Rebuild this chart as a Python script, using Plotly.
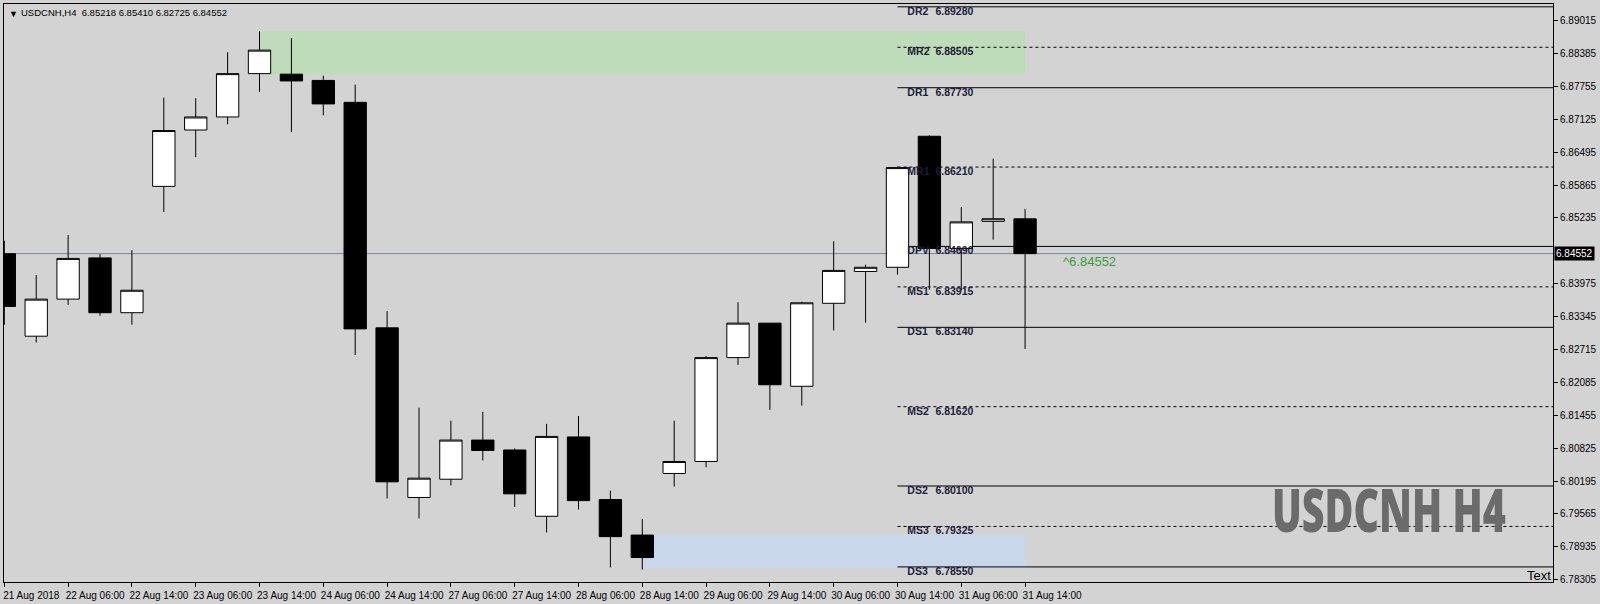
import plotly.graph_objects as go

# ---------------- data ----------------
bar_index = list(range(33))
tick_bars = [0, 2, 4, 6, 8, 10, 12, 14, 16, 18, 20, 22, 24, 26, 28, 30, 32]
tick_labels = ["21 Aug 2018", "22 Aug 06:00", "22 Aug 14:00", "23 Aug 06:00", "23 Aug 14:00",
               "24 Aug 06:00", "24 Aug 14:00", "27 Aug 06:00", "27 Aug 14:00", "28 Aug 06:00",
               "28 Aug 14:00", "29 Aug 06:00", "29 Aug 14:00", "30 Aug 06:00", "30 Aug 14:00",
               "31 Aug 06:00", "31 Aug 14:00"]

opens = [6.8455, 6.8297, 6.8368, 6.8447, 6.8342, 6.8584, 6.8692, 6.8717, 6.8800, 6.8799,
         6.8787, 6.8745, 6.8313, 6.7988, 6.8023, 6.8098, 6.8079, 6.7952, 6.8104, 6.7984,
         6.7916, 6.8034, 6.8057, 6.8256, 6.8322, 6.8201, 6.8360, 6.8421, 6.8429, 6.8680,
         6.8465, 6.8517, 6.85218]
highs = [6.8480, 6.8414, 6.8491, 6.8454, 6.8462, 6.8754, 6.8753, 6.8841, 6.8881, 6.8868,
         6.8796, 6.8779, 6.8345, 6.8160, 6.8135, 6.8152, 6.8082, 6.8129, 6.8144, 6.8001,
         6.7947, 6.8135, 6.8259, 6.8362, 6.8322, 6.8363, 6.8479, 6.8434, 6.8622, 6.8682,
         6.8544, 6.8637, 6.85410]
lows = [6.8319, 6.8285, 6.8357, 6.8336, 6.8319, 6.8535, 6.8640, 6.8703, 6.8765, 6.8688,
        6.8720, 6.8261, 6.7986, 6.7948, 6.8011, 6.8059, 6.7970, 6.7921, 6.7965, 6.7854,
        6.7850, 6.8009, 6.8046, 6.8242, 6.8156, 6.8164, 6.8308, 6.8323, 6.8415, 6.8386,
        6.8385, 6.8482, 6.82725]
closes = [6.8354, 6.8368, 6.8446, 6.8342, 6.8385, 6.8691, 6.8717, 6.8800, 6.8845, 6.8786,
          6.8742, 6.8311, 6.8018, 6.8025, 6.8098, 6.8078, 6.7995, 6.8105, 6.7982, 6.7913,
          6.7873, 6.8057, 6.8256, 6.8322, 6.8204, 6.8361, 6.8423, 6.8429, 6.8620, 6.8465,
          6.8516, 6.8522, 6.84552]

level_names = ["DR2", "MR2", "DR1", "MR1", "DPV", "MS1", "DS1", "MS2", "DS2", "MS3", "DS3"]
level_values = [6.89280, 6.88505, 6.87730, 6.86210, 6.84690, 6.83915, 6.83140, 6.81620,
                6.80100, 6.79325, 6.78550]
level_dashed = [False, True, False, True, False, True, False, True, False, True, False]
level_start = 28

zone_start = [8, 20]
zone_end = [32, 32]
zone_low = [6.8800, 6.7852]
zone_high = [6.8881, 6.7917]
zone_colors = ["#bedcb9", "#c8d8ea"]

y_ticks = [6.78305, 6.78935, 6.79565, 6.80195, 6.80825, 6.81455, 6.82085, 6.82715, 6.83345,
           6.83975, 6.84605, 6.85235, 6.85865, 6.86495, 6.87125, 6.87755, 6.88385, 6.89015]
# the tick hidden behind the current-price label is omitted
y_ticks_shown = [v for v in y_ticks if abs(v - 6.84605) > 1e-9]
y_tick_text_shown = ["%.5f" % v for v in y_ticks_shown]

x_range = [-0.01, 48.55]
y_range = [6.78261, 6.89334]

BG = "#d3d3d3"
FONT = "Liberation Sans, Arial, sans-serif"
BIG_FONT = "Noto Sans, DejaVu Sans, sans-serif"
BIG_TEXT = "USDCNH H4"
BIG_TEXT_WIDTH = 234  # px, condensed like the reference

fig = go.Figure()

# pivot level labels (drawn beneath candles)
fig.add_trace(go.Scatter(
    x=[level_start + 0.31] * len(level_names), y=level_values, mode="text",
    text=level_names, textposition="bottom right",
    textfont=dict(family=FONT, size=10.5, color="#1c1c3a", weight="bold"),
    hoverinfo="skip", showlegend=False))
fig.add_trace(go.Scatter(
    x=[level_start + 1.19] * len(level_values), y=level_values, mode="text",
    text=["%.5f" % v for v in level_values], textposition="bottom right",
    textfont=dict(family=FONT, size=10.5, color="#1c1c3a", weight="bold"),
    hoverinfo="skip", showlegend=False))

fig.add_trace(go.Candlestick(
    x=bar_index, open=opens, high=highs, low=lows, close=closes,
    increasing=dict(fillcolor="white", line=dict(color="black", width=1)),
    decreasing=dict(fillcolor="black", line=dict(color="black", width=1)),
    whiskerwidth=0, showlegend=False, hoverinfo="skip"))

shapes = []
for s, e, lo, hi, c in zip(zone_start, zone_end, zone_low, zone_high, zone_colors):
    shapes.append(dict(type="rect", xref="x", yref="y", x0=s, x1=e, y0=lo, y1=hi,
                       fillcolor=c, line=dict(width=0), layer="below"))
for v, d in zip(level_values, level_dashed):
    shapes.append(dict(type="line", xref="x", yref="y", x0=level_start, x1=x_range[1],
                       y0=v, y1=v, layer="below",
                       line=dict(color="black", width=1, dash="3px,3px" if d else "solid")))
shapes.append(dict(type="line", xref="paper", yref="y", x0=0, x1=1, y0=closes[-1], y1=closes[-1],
                   layer="below", line=dict(color="#778899", width=1)))

annotations = [
    dict(xref="paper", yref="paper", x=0, y=1, xshift=3, yshift=-3, xanchor="left", yanchor="top",
         text="▼", showarrow=False, font=dict(family=FONT, size=9, color="black")),
    dict(xref="paper", yref="paper", x=0, y=1, xshift=15, yshift=-1, xanchor="left", yanchor="top",
         text="USDCNH,H4  %.5f %.5f %.5f %.5f" % (opens[-1], highs[-1], lows[-1], closes[-1]),
         showarrow=False, font=dict(family=FONT, size=9.5, color="black")),
    dict(xref="paper", yref="y", x=1, y=closes[-1], xanchor="left", yanchor="middle", xshift=1,
         text="%.5f" % closes[-1], showarrow=False, bgcolor="black", borderpad=1,
         font=dict(family=FONT, size=10, color="white")),
    dict(xref="x", yref="y", x=bar_index[-1], y=closes[-1], xanchor="left", yanchor="middle",
         xshift=36, yshift=-8, text="^%.5f" % closes[-1], showarrow=False,
         font=dict(family=FONT, size=13, color="#3c9a3c")),
    dict(xref="paper", yref="paper", x=0.8942, y=0.1258, xanchor="center", yanchor="middle",
         text=BIG_TEXT, showarrow=False,
         font=dict(family=BIG_FONT, size=60, color="#6b6b6b", weight=900)),
    dict(xref="paper", yref="paper", x=1, y=0.012, xanchor="right", yanchor="middle",
         text="Text", showarrow=False, font=dict(family=FONT, size=13, color="black")),
]

fig.update_layout(
    width=1600, height=604,
    margin=dict(l=3, r=43, t=3, b=21, pad=0),
    paper_bgcolor=BG, plot_bgcolor=BG,
    showlegend=False,
    boxgap=0,
    shapes=shapes, annotations=annotations,
    xaxis=dict(range=x_range, rangeslider=dict(visible=False), showgrid=False, zeroline=False,
               tickmode="array", tickvals=tick_bars, ticktext=tick_labels,
               ticks="outside", ticklen=4, tickcolor="black", ticklabelshift=27,
               tickfont=dict(family=FONT, size=10, color="black"),
               showline=True, linecolor="black", linewidth=1, mirror=True, fixedrange=True),
    yaxis=dict(range=y_range, side="right", showgrid=False, zeroline=False,
               tickmode="array", tickvals=y_ticks_shown, ticktext=y_tick_text_shown,
               ticks="outside", ticklen=4, tickcolor="black",
               tickfont=dict(family=FONT, size=10, color="black"),
               showline=True, linecolor="black", linewidth=1, mirror=True, fixedrange=True),
)

# condense the big watermark text horizontally (the reference uses a condensed face)
post_js = """
document.body.style.margin='0';
document.querySelectorAll('text.annotation-text').forEach(function(t){
  if (t.textContent === '%s') {
    var b = t.getBBox();
    var cx = b.x + b.width / 2;
    var s = %d / b.width;
    t.setAttribute('transform', 'translate(' + cx + ',0) scale(' + s + ',1) translate(' + (-cx) + ',0)');
  }
});
""" % (BIG_TEXT, BIG_TEXT_WIDTH)

fig.write_html("out.html", config={"displayModeBar": False}, post_script=post_js)
